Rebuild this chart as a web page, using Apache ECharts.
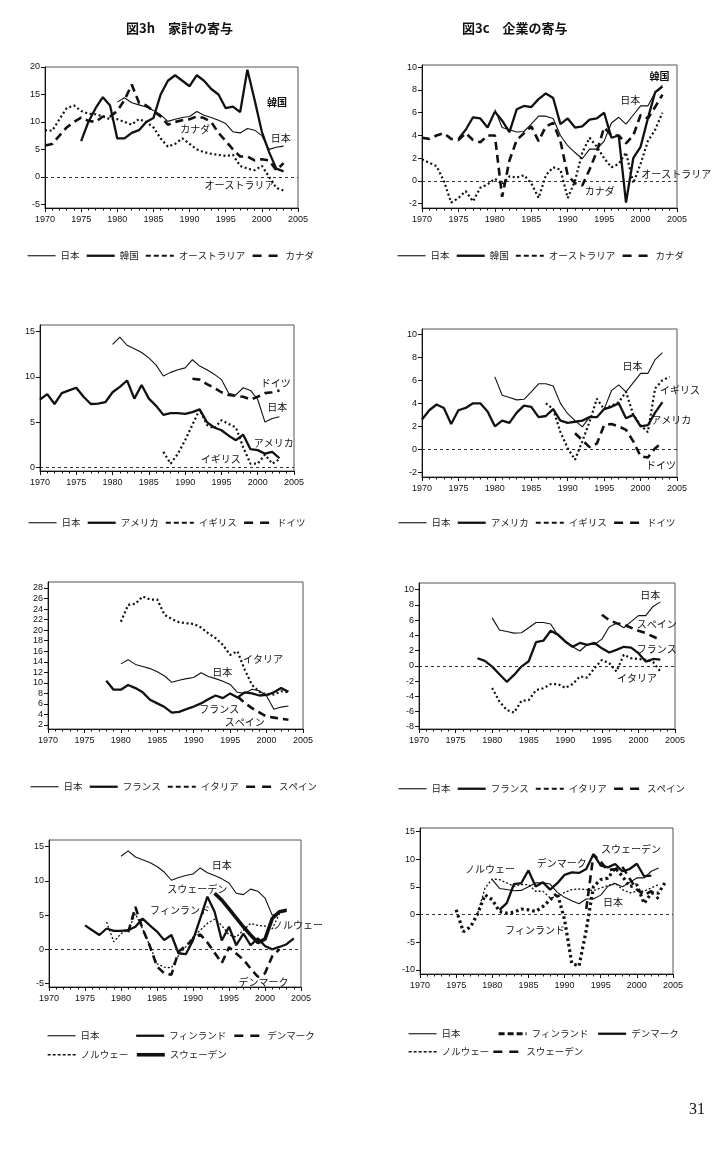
<!DOCTYPE html>
<html>
<head>
<meta charset="utf-8">
<script src="https://cdn.jsdelivr.net/npm/echarts@6/dist/echarts.min.js"></script>
<style>
  html, body { margin: 0; padding: 0; background: #fff; }
  #chart { width: 723px; height: 1160px; }
</style>
</head>
<body>
<div id="chart"></div>
<script>
// --- data (values by year, each array starts at the year given in panels) ---
// household contributions
const jpHouse = [13.6, 14.4, 13.5, 13.1, 12.7, 12.1, 11.3, 10.1, 10.5, 10.8, 11.0, 11.9, 11.2, 10.8, 10.3, 9.7, 8.2, 8.0, 8.8, 8.5, 7.5, 5.0, 5.4, 5.6]
const krHouse = [6.5, 10, 12.5, 14.5, 13, 7, 7, 8, 8.5, 10, 10.7, 15, 17.5, 18.5, 17.5, 16.5, 18.5, 17.5, 16, 15, 12.5, 12.8, 11.8, 19.5, 14, 8.2, 4.5, 1.5, 1.0]
const auHouse = [8.5, 8.4, 10.5, 12.5, 13, 12, 11.5, 11.4, 11, 10.5, 10.5, 10, 9.5, 10.5, 10, 9, 7, 5.5, 6, 7, 6, 5, 4.5, 4.2, 4, 3.8, 4, 2, 1.5, 1.2, 2, 0, -2, -2.5]
const caHouse = [5.7, 6, 7.5, 9, 10, 10.8, 10.2, 10, 11, 11, 12, 14, 16.8, 13.5, 13, 12, 11, 9.5, 10, 10.3, 10.5, 11, 10.7, 10, 8, 6.5, 5, 3.7, 3.7, 3, 3.2, 3, 1.2, 2.5]
const usHouse = [7.5, 8.1, 7.0, 8.2, 8.5, 8.8, 7.8, 7.0, 7.05, 7.2, 8.3, 8.9, 9.6, 7.6, 9.1, 7.6, 6.8, 5.8, 6.0, 6.0, 5.9, 6.1, 6.4, 5.0, 4.4, 4.1, 3.5, 3.0, 3.6, 2.0, 1.9, 1.5, 1.7, 1.0]
const ukHouse = [1.7, 0.4, 1.5, 3.0, 4.7, 6.4, 4.7, 4.3, 5.2, 4.8, 4.4, 2.2, 0.4, 0.4, 1.4, 0.4, 0.9]
const deHouse = [9.8, 9.7, 9.2, 8.8, 8.3, 8.0, 7.9, 7.8, 7.5, 7.8, 8.2, 8.3, 8.5]
const frHouse = [10.4, 8.7, 8.7, 9.6, 9.0, 8.2, 6.8, 6.1, 5.4, 4.35, 4.5, 5.0, 5.5, 6.1, 6.9, 7.6, 7.1, 8.0, 7.2, 8.2, 8.0, 7.6, 7.7, 8.2, 9.0, 8.3]
const itHouse = [21.6, 24.8, 25.0, 26.4, 25.8, 25.8, 22.9, 22.1, 21.5, 21.3, 21.2, 20.5, 19.4, 18.5, 17.2, 15.3, 16.0, 12.5, 9.6, 8.3, 7.8, 7.8, 8.4, 8.2]
const esHouse = [7.4, 6.2, 5.2, 4.4, 3.6, 3.4, 3.2, 3.0]
const fiHouse = [3.5, 2.8, 2.1, 3.05, 2.7, 2.7, 2.8, 3.3, 4.5, 3.5, 2.6, 1.35, 2.1, -0.6, -0.7, 1.35, 4.5, 7.7, 5.5, 1.3, 3.3, 0.6, 2.3, 0.6, 1.6, 0.5, 0, 0.35, 0.75, 1.6]
const dkHouse = [2.5, 6.2, 3.0, 0.5, -2.5, -3.5, -3.7, -0.3, 0.5, 1.5, 2.2, 1.0, -0.5, -2.0, 0.3, -0.6, -1.5, -2.8, -4.0, -3.5, -1.0, 0.0]
const noHouse = [4.0, 1.1, 2.3, 2.8, 5.2, 3.0, 0.6, -2.1, -2.6, -2.7, -0.9, 0.4, 1.8, 2.8, 3.8, 4.4, 3.5, 2.1, 1.8, 2.8, 3.8, 3.5, 3.4, 3.0, 5.2, 5.9]
const seHouse = [8.2, 7.2, 5.9, 4.6, 3.3, 2.1, 1.0, 1.5, 4.5, 5.5, 5.7]

// corporate contributions
const jpCorp = [6.3, 4.7, 4.5, 4.3, 4.35, 5.0, 5.7, 5.7, 5.5, 4.0, 3.1, 2.5, 1.95, 2.8, 2.8, 3.5, 5.1, 5.6, 5.0, 5.8, 6.6, 6.6, 7.8, 8.4]
const krCorp = [3.7, 4.5, 5.6, 5.5, 4.7, 6.1, 5.3, 4.3, 6.3, 6.6, 6.5, 7.2, 7.7, 7.3, 5.0, 5.5, 4.7, 4.8, 5.4, 5.5, 6.0, 3.8, 4.0, -1.9, 2.0, 3.0, 5.5, 7.8, 8.3]
const auCorp = [1.9, 1.6, 1.3, 0, -1.9, -1.5, -0.9, -1.8, -0.6, -0.3, 0.2, -0.3, 0.4, 0.3, 0.5, -0.2, -1.5, 0.5, 1.2, 1.0, -1.5, 0, 2.5, 3.8, 3.0, 2.0, 1.2, 1.5, 2.5, -0.2, 1.5, 3.5, 4.5, 6.0]
const caCorp = [3.8, 3.7, 4.0, 4.2, 3.7, 3.6, 4.2, 3.6, 3.4, 4.0, 4.0, -1.4, 1.8, 3.6, 4.2, 4.8, 3.5, 4.8, 5.1, 3.5, 0.5, -0.2, -0.4, 1.0, 2.6, 4.7, 4.0, 4.0, 3.3, 4.0, 5.8, 5.5, 6.5, 7.6]
const usCorp = [2.6, 3.4, 3.9, 3.6, 2.2, 3.4, 3.6, 4.0, 4.0, 3.3, 2.0, 2.5, 2.3, 3.2, 3.8, 3.7, 2.8, 2.9, 3.5, 2.5, 2.3, 2.4, 2.5, 2.8, 2.8, 3.5, 3.7, 4.0, 2.7, 3.0, 2.0, 2.1, 3.2, 4.1]
const ukCorp = [4.0, 3.5, 1.5, 0.1, -0.9, 0.7, 2.4, 4.4, 3.5, 3.8, 4.1, 5.0, 3.0, 2.1, 1.5, 5.3, 6.0, 6.3]
const deCorp = [1.4, 0.8, 0.2, 0.5, 2.1, 2.2, 2.0, 1.7, 0.7, -0.6, -0.7, 0.1, 0.6]
const frCorp = [1.0, 0.65, -0.1, -1.1, -2.1, -1.2, -0.1, 0.6, 3.1, 3.3, 4.6, 4.1, 3.2, 2.5, 3.0, 2.75, 3.0, 2.3, 1.75, 2.1, 2.5, 2.4, 1.66, 0.56, 0.9, 0.8]
const itCorp = [-2.9, -4.7, -5.8, -6.15, -4.6, -4.5, -3.2, -2.95, -2.4, -2.4, -2.9, -2.4, -1.4, -1.55, -0.3, 0.75, 0.35, -0.75, 1.45, 1.0, 0.9, 0.8, 0.5, -0.75]
const esCorp = [6.7, 6.0, 5.6, 5.4, 5.0, 4.6, 4.3, 3.85, 3.4]
const fiCorp = [0.85, -3.1, -2.2, 0.2, 3.55, 2.65, 0.55, 0.25, 0.4, 1.0, 0.85, 0.55, 1.45, 2.65, 3.85, -0.95, -8.8, -9.3, -2.8, 5.05, 6.3, 6.55, 8.4, 6.9, 5.05, 5.35, 2.0, 3.85, 3.85, 6.0]
const dkCorp = [0.85, 2.05, 5.5, 5.65, 7.95, 5.05, 5.8, 4.5, 5.65, 7.15, 7.6, 7.5, 8.2, 10.9, 8.8, 8.5, 9.1, 7.8, 8.2, 9.15, 6.9, 7.0]
const noCorp = [0.3, 4.8, 6.4, 6.3, 5.7, 5.1, 5.4, 5.4, 4.2, 4.2, 3.0, 3.25, 4.0, 4.5, 4.6, 4.5, 4.3, 4.8, 5.2, 5.7, 4.5, 3.9, 4.2, 4.2, 4.8, 5.4]
const seCorp = [1.0, 10.8, 9.5, 8.0, 8.2, 8.6, 6.5, 4.5, 3.5, 4.2, 2.8]

const titles = ['図3h　家計の寄与', '図3c　企業の寄与']
const pageNo = '31'

const FONT_NUM = '"Liberation Sans Narrow", "Liberation Sans", Arial, sans-serif'
const FONT_JP = '"Noto Sans CJK JP", "Noto Sans CJK SC", sans-serif'

const STYLES = {
  thin: { width: 1.1, type: 'solid' },
  thick: { width: 2.3, type: 'solid' },
  heavy: { width: 3.6, type: 'solid' },
  dot: { width: 2.2, type: [2, 2.6], legendType: [5, 3] },
  dash: { width: 2.6, type: [8, 5], legendType: [9, 7] },
  fine: { width: 1.3, type: [2, 2], legendType: [3, 2] },
  bigdot: { width: 3.2, type: [2.6, 3], legendType: [6, 3] }
}

// box = [left, top, width, height] of each plot frame
const panels = [
  {
    key: 'p1l', box: [45, 67, 253, 141], y: [-5.67, 20], yTicks: [-5, 0, 5, 10, 15, 20], legend: [27, 251],
    lines: [['日本', 1980, jpHouse, 'thin'], ['韓国', 1975, krHouse, 'thick'], ['オーストラリア', 1970, auHouse, 'dot'], ['カナダ', 1970, caHouse, 'dash']],
    notes: [['韓国', 2002.1, 13.6, true], ['日本', 2002.6, 7.0], ['カナダ', 1990.8, 8.6], ['オーストラリア', 1996.9, -1.6]]
  },
  {
    key: 'p1r', box: [422, 65, 255, 143], y: [-2.38, 10.2], yTicks: [-2, 0, 2, 4, 6, 8, 10], legend: [397, 251],
    lines: [['日本', 1980, jpCorp, 'thin'], ['韓国', 1975, krCorp, 'thick'], ['オーストラリア', 1970, auCorp, 'dot'], ['カナダ', 1970, caCorp, 'dash']],
    notes: [['韓国', 2002.6, 9.2, true], ['日本', 1998.6, 7.1], ['オーストラリア', 2004.9, 0.6], ['カナダ', 1994.4, -0.9]]
  },
  {
    key: 'p2l', box: [40, 325, 254, 146], y: [-0.41, 15.74], yTicks: [0, 5, 10, 15], legend: [28, 518],
    lines: [['日本', 1980, jpHouse, 'thin'], ['アメリカ', 1970, usHouse, 'thick'], ['イギリス', 1987, ukHouse, 'dot'], ['ドイツ', 1991, deHouse, 'dash']],
    notes: [['ドイツ', 2002.5, 9.3], ['日本', 2002.7, 6.6], ['アメリカ', 2002.2, 2.7], ['イギリス', 1994.9, 0.9]]
  },
  {
    key: 'p2r', box: [422, 329, 255, 148], y: [-2.4, 10.46], yTicks: [-2, 0, 2, 4, 6, 8, 10], legend: [398, 518],
    lines: [['日本', 1980, jpCorp, 'thin'], ['アメリカ', 1970, usCorp, 'thick'], ['イギリス', 1987, ukCorp, 'dot'], ['ドイツ', 1991, deCorp, 'dash']],
    notes: [['日本', 1998.9, 7.2], ['イギリス', 2005.4, 5.1], ['アメリカ', 2004.2, 2.5], ['ドイツ', 2002.8, -1.4]]
  },
  {
    key: 'p3l', box: [48, 582, 255, 147], y: [1.24, 29.14], yTicks: [2, 4, 6, 8, 10, 12, 14, 16, 18, 20, 22, 24, 26, 28], legend: [30, 782],
    lines: [['日本', 1980, jpHouse, 'thin'], ['フランス', 1978, frHouse, 'thick'], ['イタリア', 1980, itHouse, 'dot'], ['スペイン', 1996, esHouse, 'dash']],
    notes: [['イタリア', 1999.5, 14.4], ['日本', 1993.9, 12.1], ['フランス', 1993.5, 5.0], ['スペイン', 1997, 2.6]]
  },
  {
    key: 'p3r', box: [419, 583, 256, 146], y: [-8.3, 10.88], yTicks: [-8, -6, -4, -2, 0, 2, 4, 6, 8, 10], legend: [398, 784],
    lines: [['日本', 1980, jpCorp, 'thin'], ['フランス', 1978, frCorp, 'thick'], ['イタリア', 1980, itCorp, 'dot'], ['スペイン', 1995, esCorp, 'dash']],
    notes: [['日本', 2001.6, 9.3], ['スペイン', 2002.5, 5.5], ['フランス', 2002.5, 2.2], ['イタリア', 1999.8, -1.6]]
  },
  {
    key: 'p4l', box: [49, 840, 252, 147], y: [-5.5, 15.98], yTicks: [-5, 0, 5, 10, 15],
    legendItems: [['日本', 47, 1031], ['フィンランド', 135, 1031], ['デンマーク', 233, 1031], ['ノルウェー', 47, 1050], ['スウェーデン', 135, 1050]],
    lines: [['日本', 1980, jpHouse, 'thin'], ['フィンランド', 1975, fiHouse, 'thick'], ['デンマーク', 1981, dkHouse, 'dash'], ['ノルウェー', 1978, noHouse, 'fine'], ['スウェーデン', 1993, seHouse, 'heavy']],
    notes: [['日本', 1994, 12.3], ['スウェーデン', 1990.6, 8.8], ['フィンランド', 1988.2, 5.7], ['ノルウェー', 2004.6, 3.5], ['デンマーク', 1999.8, -4.75]]
  },
  {
    key: 'p4r', box: [420, 828, 253, 146], y: [-10.72, 15.6], yTicks: [-10, -5, 0, 5, 10, 15],
    legendItems: [['日本', 408, 1029], ['フィンランド', 497, 1029], ['デンマーク', 597, 1029], ['ノルウェー', 408, 1047], ['スウェーデン', 492, 1047]],
    lines: [['日本', 1980, jpCorp, 'thin'], ['フィンランド', 1975, fiCorp, 'bigdot'], ['デンマーク', 1981, dkCorp, 'thick'], ['ノルウェー', 1978, noCorp, 'fine'], ['スウェーデン', 1993, seCorp, 'dash']],
    notes: [['スウェーデン', 1999.2, 11.7], ['デンマーク', 1989.6, 9.3], ['ノルウェー', 1979.7, 8.2], ['日本', 1996.7, 2.2], ['フィンランド', 1985.9, -2.8]]
  }
]

const chart = echarts.init(document.getElementById('chart'), null, { renderer: 'canvas' })

const grids = []
const xAxes = []
const yAxes = []
const series = []
const legends = []

const legendText = { fontSize: 9.5, color: '#222', fontFamily: FONT_JP }

function legendEntry(panel, name) {
  const line = panel.lines.find(l => l[0] === name)
  const st = STYLES[line[3]]
  return {
    name: panel.key + '|' + name,
    lineStyle: { color: '#111', width: st.width, type: st.legendType || st.type },
    itemStyle: { color: 'rgba(0,0,0,0)', borderColor: 'rgba(0,0,0,0)', borderWidth: 0, opacity: 0 }
  }
}

panels.forEach((p, i) => {
  const [left, top, width, height] = p.box
  grids.push({ left, top, width, height, show: true, borderColor: '#555', borderWidth: 1 })
  xAxes.push({
    gridIndex: i, type: 'value', min: 1970, max: 2005, interval: 5,
    axisLine: { show: true, onZero: false, lineStyle: { color: '#111', width: 1 } },
    axisTick: { show: true, length: 4, lineStyle: { color: '#111' } },
    minorTick: { show: true, splitNumber: 5, length: 2.5, lineStyle: { color: '#111' } },
    axisLabel: { fontSize: 9, color: '#111', fontFamily: FONT_NUM, margin: 7, formatter: v => String(v) },
    splitLine: { show: false }
  })
  yAxes.push({
    gridIndex: i, type: 'value', min: p.y[0], max: p.y[1],
    axisLine: { show: true, onZero: false, lineStyle: { color: '#111', width: 1 } },
    axisTick: { show: true, length: 4, customValues: p.yTicks, lineStyle: { color: '#111' } },
    axisLabel: { customValues: p.yTicks, fontSize: 9, color: '#111', fontFamily: FONT_NUM, margin: 5 },
    splitLine: { show: false }
  })

  p.lines.forEach(([name, start, values, styleKey], k) => {
    const st = STYLES[styleKey]
    const s = {
      type: 'line',
      name: p.key + '|' + name,
      xAxisIndex: i,
      yAxisIndex: i,
      data: values.map((v, j) => [start + j, v]),
      symbol: 'none',
      lineStyle: { color: '#111', width: st.width, type: st.type },
      itemStyle: { color: '#111' },
      z: 3 + k,
      silent: true
    }
    if (k === 0) {
      s.markLine = {
        silent: true,
        symbol: ['none', 'none'],
        label: { show: false },
        lineStyle: { color: '#333', width: 1, type: [3, 3] },
        data: [{ yAxis: 0 }]
      }
    }
    series.push(s)
  })

  const base = {
    orient: 'horizontal', itemWidth: 28, itemHeight: 10, itemGap: 6, selectedMode: false,
    formatter: n => n.split('|')[1], textStyle: legendText, padding: 0
  }
  if (p.legendItems) {
    p.legendItems.forEach(([name, l, t]) => {
      legends.push(Object.assign({}, base, { left: l, top: t, data: [legendEntry(p, name)] }))
    })
  } else {
    legends.push(Object.assign({}, base, {
      left: p.legend[0], top: p.legend[1],
      data: p.lines.map(l => legendEntry(p, l[0]))
    }))
  }
})

chart.setOption({
  animation: false,
  backgroundColor: '#fff',
  title: [
    { text: titles[0], left: 126, top: 22, padding: 0, textStyle: { fontSize: 13, fontWeight: 'bold', color: '#111', fontFamily: FONT_JP } },
    { text: titles[1], left: 462, top: 22, padding: 0, textStyle: { fontSize: 13, fontWeight: 'bold', color: '#111', fontFamily: FONT_JP } }
  ],
  grid: grids,
  xAxis: xAxes,
  yAxis: yAxes,
  legend: legends,
  series: series
})

// in-plot labels, placed in data coordinates through each grid
const graphics = []
panels.forEach((p, i) => {
  p.notes.forEach(([text, x, y, bold]) => {
    const pt = chart.convertToPixel({ gridIndex: i }, [x, y])
    graphics.push({
      type: 'text', x: pt[0], y: pt[1], z: 20, silent: true,
      style: { text, fill: '#111', font: (bold ? 'bold ' : '') + '10px ' + FONT_JP, align: 'center', verticalAlign: 'middle' }
    })
  })
})
graphics.push({
  type: 'text', x: 705, y: 1110, silent: true,
  style: { text: pageNo, fill: '#111', font: '16px "Liberation Serif", serif', align: 'right', verticalAlign: 'middle' }
})
chart.setOption({ graphic: graphics })
</script>
</body>
</html>
